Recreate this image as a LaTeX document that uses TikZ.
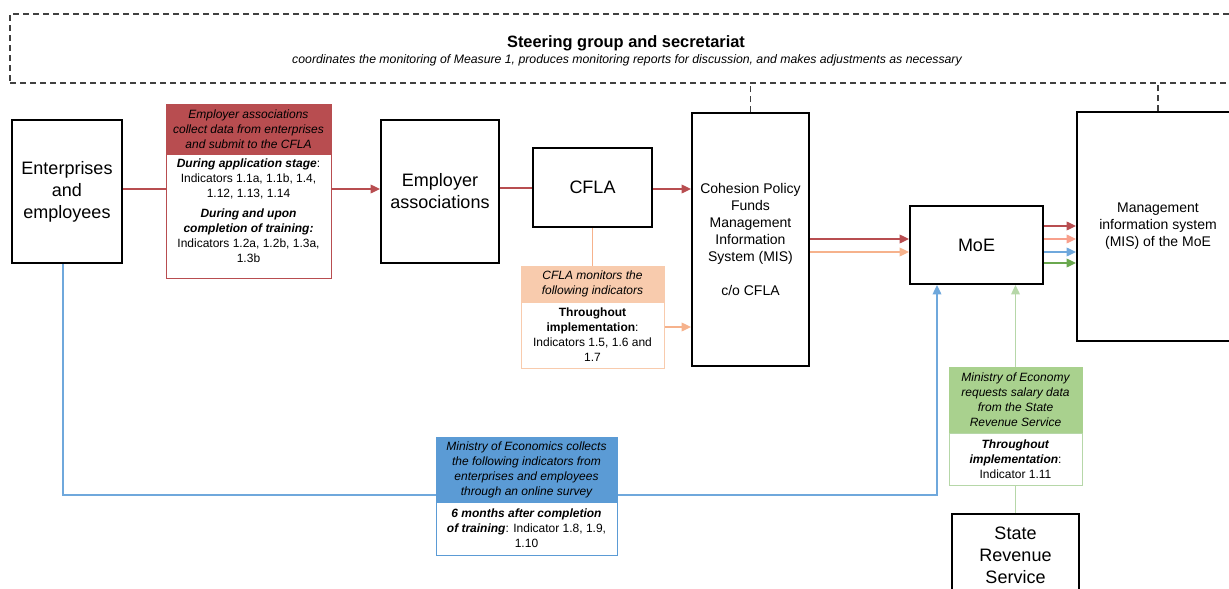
\documentclass[tikz,border=0pt]{standalone}
\usepackage{fontspec}
\setmainfont{Liberation Sans}
\usetikzlibrary{arrows.meta}
\definecolor{redc}{RGB}{184,77,80}
\definecolor{orfill}{RGB}{248,203,173}
\definecolor{orline}{RGB}{246,178,140}
\definecolor{salmon}{RGB}{248,160,140}
\definecolor{bluefill}{RGB}{91,155,213}
\definecolor{blueline}{RGB}{111,168,220}
\definecolor{grfill}{RGB}{169,209,142}
\definecolor{grline}{RGB}{182,215,168}
\definecolor{grdark}{RGB}{106,168,79}
\begin{document}
\begin{tikzpicture}[x=0.75pt,y=-0.75pt,
  bigbox/.style={draw=black,line width=1.5pt,fill=white,align=center,inner sep=0pt,font=\fontsize{13.5}{16.5}\selectfont},
  medbox/.style={draw=black,line width=1.5pt,fill=white,align=center,inner sep=0pt,font=\fontsize{10.5}{12.75}\selectfont},
  hdr/.style={draw=#1,fill=#1,line width=0.75pt,align=center,inner sep=0pt,font=\fontsize{9}{11.25}\selectfont\itshape},
  bodybox/.style={draw=#1,fill=white,line width=0.75pt,align=center,inner sep=0pt,font=\fontsize{9}{11.25}\selectfont},
  txt/.style={align=center,inner sep=0pt,font=\fontsize{9}{11.25}\selectfont},
  con/.style={line width=1pt,draw=#1},
  arr/.style={line width=1pt,draw=#1,-{Triangle[length=7pt,width=6.5pt]}},
  dashln/.style={line width=0.9pt,draw=black!75,dash pattern=on 4.5pt off 3pt}
]
\useasboundingbox (0,0) rectangle (1229,589);
\clip (0,0) rectangle (1229,589);

% steering group
\node[dashln,minimum width=930pt,minimum height=51.75pt,inner sep=0pt] (steer) at (630,48.5) {};
\node[font=\fontsize{12.3}{14}\selectfont\bfseries,inner sep=0pt] (title) at (626,43) {Steering group and secretariat};
\node[font=\fontsize{9.2}{11}\selectfont\itshape,inner sep=0pt] (sub) at (627,60) {coordinates the monitoring of Measure 1, produces monitoring reports for discussion, and makes adjustments as necessary};

% main boxes
\node[bigbox,minimum width=82.5pt,minimum height=107.25pt] (ent) at (67,191.5) {Enterprises\\and\\employees};
\node[bigbox,minimum width=88.5pt,minimum height=107.25pt] (ea) at (440,191.5) {Employer\\associations};
\node[bigbox,minimum width=89.25pt,minimum height=59.25pt] (cfla) at (592.5,187.5) {CFLA};
\node[medbox,minimum width=87.75pt,minimum height=189.75pt] (coh) at (750.5,239.5) {Cohesion Policy\\Funds\\Management\\Information\\System (MIS)\\[12.75pt]c/o CFLA};
\node[bigbox,minimum width=99.75pt,minimum height=58.5pt] (moe) at (976.5,245) {MoE};
\node[medbox,minimum width=121.5pt,minimum height=171.75pt] (mis) at (1158,226.5) {Management\\information system\\(MIS) of the MoE};
\node[bigbox,minimum width=95.25pt,minimum height=61.5pt] (srs) at (1015.5,555) {State\\Revenue\\Service};

% red info box
\node[hdr=redc,minimum width=123.75pt,minimum height=37.5pt] (redh) at (248.5,129) {Employer associations\\collect data from enterprises\\and submit to the CFLA};
\node[bodybox=redc,minimum width=123.75pt,minimum height=93pt] (redb) at (248.5,216) {};
\node[txt] (redt) at (248.5,210.5) {\textbf{\textit{During application stage}}:\\Indicators 1.1a, 1.1b, 1.4,\\1.12, 1.13, 1.14\\[3.75pt]\textbf{\textit{During and upon}}\\\textbf{\textit{completion of training:}}\\Indicators 1.2a, 1.2b, 1.3a,\\1.3b};

% orange info box
\node[hdr=orfill,minimum width=107.25pt,minimum height=27pt] (orh) at (592.5,284) {CFLA monitors the\\following indicators};
\node[bodybox=orfill,minimum width=107.25pt,minimum height=49.5pt] (orb) at (592.5,335) {\textbf{Throughout}\\\textbf{implementation}:\\Indicators 1.5, 1.6 and\\1.7};

% blue info box
\node[hdr=bluefill,minimum width=135.75pt,minimum height=48.75pt] (blh) at (526.5,469.5) {Ministry of Economics collects\\the following indicators from\\enterprises and employees\\through an online survey};
\node[bodybox=bluefill,minimum width=135.75pt,minimum height=39.75pt] (blb) at (526.5,528.5) {\textbf{\textit{6 months after completion}}\\\textbf{\textit{of training}}: Indicator 1.8, 1.9,\\1.10};

% green info box
\node[hdr=grfill,minimum width=99.75pt,minimum height=49.5pt] (grh) at (1015.5,400) {Ministry of Economy\\requests salary data\\from the State\\Revenue Service};
\node[bodybox=grline,minimum width=99.75pt,minimum height=39pt] (grb) at (1015.5,459) {\textbf{\textit{Throughout}}\\\textbf{\textit{implementation}}:\\Indicator 1.11};

% dashed stubs
\draw[dashln] (coh.north) -- (coh.north |- steer.south);
\draw[dashln] (mis.north) -- (mis.north |- steer.south);

% red flow
\draw[con=redc] (ent.east |- 0,189) -- (redb.west |- 0,189);
\draw[arr=redc] (redb.east |- 0,189) -- (ea.west |- 0,189);
\draw[con=redc] (ea.east |- 0,188) -- (cfla.west |- 0,188);
\draw[arr=redc] (cfla.east |- 0,189) -- (coh.west |- 0,189);

% orange flow
\draw[con=orline] (cfla.south) -- (orh.north);
\draw[arr=orline] (orb.east |- 0,327) -- (coh.west |- 0,327);

% cohesion -> MoE
\draw[arr=redc] (coh.east |- 0,239) -- (moe.west |- 0,239);
\draw[arr=orline] (coh.east |- 0,252) -- (moe.west |- 0,252);

% MoE -> MIS
\draw[arr=redc] (moe.east |- 0,226) -- (mis.west |- 0,226);
\draw[arr=salmon] (moe.east |- 0,239) -- (mis.west |- 0,239);
\draw[arr=blueline] (moe.east |- 0,252) -- (mis.west |- 0,252);
\draw[arr=grdark] (moe.east |- 0,263) -- (mis.west |- 0,263);

% blue flow
\draw[con=blueline] (ent.south -| 63,0) |- (blh.west |- 0,495);
\draw[arr=blueline] (blh.east |- 0,495) -| (moe.south -| 937,0);

% green flow
\draw[arr=grline] (grh.north) -- (grh.north |- moe.south);
\draw[con=grline] (grb.south) -- (srs.north);
\end{tikzpicture}
\end{document}
